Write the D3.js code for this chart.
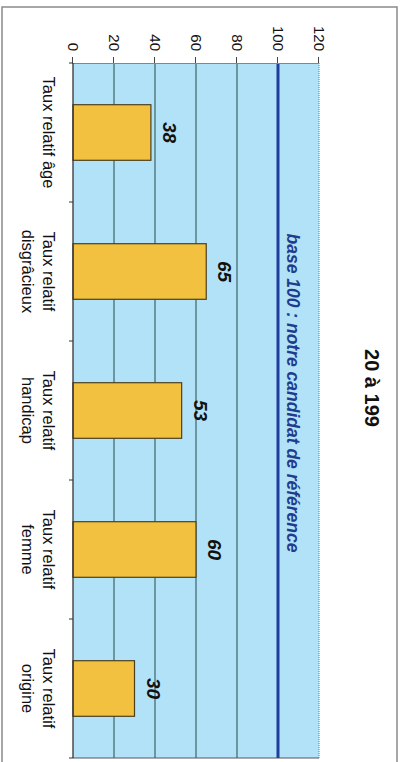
<!DOCTYPE html>
<html>
<head>
<meta charset="utf-8">
<script src="https://cdn.jsdelivr.net/npm/d3@7"></script>
<style>
  html, body { margin: 0; padding: 0; background: #fff; }
  svg { display: block; }
  text { font-family: "Liberation Sans", Arial, sans-serif; }
</style>
</head>
<body>
<svg id="chart" width="405" height="762"></svg>
<script>
// Chart content
const title = "20 à 199";
const categories = [
  "Taux relatif âge",
  "Taux relatif\ndisgrâcieux",
  "Taux relatif\nhandicap",
  "Taux relatif\nfemme",
  "Taux relatif\norigine"
];
const values = [38, 65, 53, 60, 30];
const valueTicks = [0, 20, 40, 60, 80, 100, 120];
const referenceValue = 100;
const referenceLabel = "base 100 : notre candidat de référence";

const svg = d3.select("#chart");

// Outer frame
svg.append("rect")
  .attr("x", 2).attr("y", 7)
  .attr("width", 395).attr("height", 770)
  .attr("fill", "none").attr("stroke", "#8a8a8a").attr("stroke-width", 1.5);

// The chart is laid out as a column chart (762 wide, 405 tall) and turned a quarter turn clockwise.
const g = svg.append("g").attr("transform", "translate(405,0) rotate(90)");

const plotLeft = 63, plotRight = 758;
const x = d3.scaleBand()
  .domain(categories)
  .range([plotLeft, plotRight])
  .paddingInner(0.6)
  .paddingOuter(0.3);
const y = d3.scaleLinear().domain([0, 120]).range([332, 86]);

// Plot background
g.append("rect")
  .attr("x", plotLeft).attr("y", y(120))
  .attr("width", plotRight - plotLeft).attr("height", y(0) - y(120))
  .attr("fill", "#b2e2f7");

// Gridlines
g.append("g").selectAll("line")
  .data(valueTicks.filter(t => t > 0 && t < 120 && t !== referenceValue))
  .join("line")
  .attr("x1", plotLeft).attr("x2", plotRight)
  .attr("y1", d => y(d)).attr("y2", d => y(d))
  .attr("stroke", "#3d6466").attr("stroke-width", 1.2);

// Plot border (top of value range dotted)
g.append("line")
  .attr("x1", plotLeft).attr("x2", plotRight)
  .attr("y1", y(120)).attr("y2", y(120))
  .attr("stroke", "#7a8a90").attr("stroke-width", 1.2)
  .attr("stroke-dasharray", "1,1");
g.append("line")
  .attr("x1", plotRight).attr("x2", plotRight)
  .attr("y1", y(120)).attr("y2", y(0))
  .attr("stroke", "#556").attr("stroke-width", 1);

// Reference line at 100
g.append("line")
  .attr("x1", plotLeft).attr("x2", plotRight)
  .attr("y1", y(referenceValue)).attr("y2", y(referenceValue))
  .attr("stroke", "#1f3d9c").attr("stroke-width", 3);

g.append("text")
  .attr("x", 393).attr("y", y(referenceValue) - 9)
  .attr("text-anchor", "middle")
  .attr("font-size", 17.5).attr("font-weight", "bold").attr("font-style", "italic")
  .attr("fill", "#1f3d8c")
  .text(referenceLabel);

// Bars
g.append("g").selectAll("rect")
  .data(values)
  .join("rect")
  .attr("x", (d, i) => x(categories[i]))
  .attr("width", x.bandwidth())
  .attr("y", d => y(d))
  .attr("height", d => y(0) - y(d))
  .attr("fill", "#f1c13f")
  .attr("stroke", "#4d4020").attr("stroke-width", 1.2);

// Value labels
g.append("g").selectAll("text")
  .data(values)
  .join("text")
  .attr("x", (d, i) => x(categories[i]) + x.bandwidth() / 2)
  .attr("y", d => y(d) - 12)
  .attr("text-anchor", "middle")
  .attr("font-size", 19).attr("font-weight", "bold").attr("font-style", "italic")
  .attr("fill", "#111")
  .text(d => d);

// Value axis
const yAxis = g.append("g")
  .attr("transform", `translate(${plotLeft},0)`)
  .call(d3.axisLeft(y).tickValues(valueTicks).tickSize(6).tickPadding(6));
yAxis.select(".domain").attr("stroke", "#7a8a90").attr("stroke-width", 1);
yAxis.selectAll(".tick line").attr("stroke", "#444");
yAxis.selectAll(".tick text")
  .attr("font-size", 15).attr("fill", "#111")
  .attr("font-family", "'Liberation Sans', Arial, sans-serif");

// Category axis: ticks between categories
const step = x.step();
const boundaries = categories.map(c => x(c) - step * x.paddingInner() / 2).concat([plotRight]);
const xAxis = g.append("g").attr("transform", `translate(0,${y(0)})`);
xAxis.append("line")
  .attr("x1", plotLeft).attr("x2", plotRight)
  .attr("stroke", "#333").attr("stroke-width", 1.3);
xAxis.selectAll("line.tick")
  .data(boundaries)
  .join("line")
  .attr("class", "tick")
  .attr("x1", d => d).attr("x2", d => d)
  .attr("y1", 0).attr("y2", 4)
  .attr("stroke", "#333");

// Category labels
const labels = xAxis.selectAll("text.cat")
  .data(categories)
  .join("text")
  .attr("class", "cat")
  .attr("text-anchor", "middle")
  .attr("font-size", 16.5).attr("fill", "#111");
labels.each(function (c) {
  const t = d3.select(this);
  c.split("\n").forEach((line, i) => {
    t.append("tspan")
      .attr("x", x(c) + x.bandwidth() / 2)
      .attr("y", 30 + i * 21)
      .text(line);
  });
});

// Title
g.append("text")
  .attr("x", 388).attr("y", 40)
  .attr("text-anchor", "middle")
  .attr("font-size", 20).attr("font-weight", "bold").attr("fill", "#111")
  .text(title);
</script>
</body>
</html>
